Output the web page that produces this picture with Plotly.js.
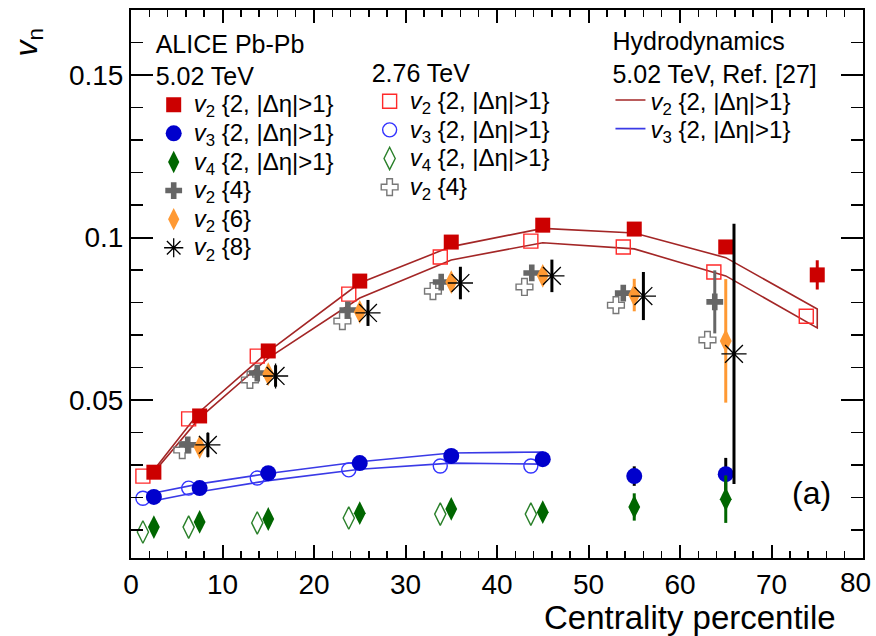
<!DOCTYPE html>
<html>
<head>
<meta charset="utf-8">
<script src="https://cdn.plot.ly/plotly-3.0.1.min.js"></script>
<style>html,body{margin:0;padding:0;background:#fff;}#chart{width:876px;height:636px;}</style>
</head>
<body>
<div id="chart"></div>
<script>
// ---------- data ----------
// ALICE 5.02 TeV
const x502 = [2.5, 7.5, 15, 25, 35, 45, 55, 65, 75];
const v22_502 = [0.0278, 0.0451, 0.0651, 0.0866, 0.0986, 0.1038, 0.1026, 0.0971, 0.0885];
const v22_502_err = [0, 0, 0, 0, 0, 0, 0.001, 0.002, 0.0045];
const x502_v3 = [2.5, 7.5, 15, 25, 35, 45, 55, 65];
const v32_502 = [0.0202, 0.0229, 0.0275, 0.0306, 0.0328, 0.0318, 0.0266, 0.0272];
const v32_502_err = [0, 0, 0, 0, 0, 0, 0.003, 0.005];
const v42_502 = [0.0109, 0.0125, 0.0134, 0.0152, 0.0165, 0.0155, 0.0171, 0.0195];
const v42_502_err = [0, 0, 0, 0, 0, 0, 0.0042, 0.0073];
const x502_v24 = [6.2, 13.8, 23.7, 33.9, 43.8, 53.8, 63.8];
const v24_502 = [0.0362, 0.0583, 0.0777, 0.0863, 0.0891, 0.0829, 0.0802];
const v24_502_err = [0, 0, 0, 0.001, 0.001, 0.0015, 0.0097];
const x502_v26 = [7.5, 15, 25, 35, 45, 55, 65];
const v26_502 = [0.0355, 0.058, 0.0771, 0.0863, 0.0882, 0.0823, 0.0682];
const v26_502_err = [0, 0, 0, 0, 0.001, 0.005, 0.019];
const x502_v28 = [8.4, 15.8, 25.9, 36, 46, 56, 65.9];
const v28_502 = [0.0362, 0.0574, 0.0768, 0.086, 0.0882, 0.082, 0.0642];
const v28_502_err = [0.0037, 0.0033, 0.004, 0.005, 0.005, 0.0074, 0.040];

// ALICE 2.76 TeV
const x276 = [1.3, 6.3, 13.8, 23.8, 33.8, 43.7, 53.8, 63.7, 73.8];
const v22_276 = [0.0266, 0.0442, 0.0635, 0.0826, 0.094, 0.0989, 0.0971, 0.0894, 0.0758];
const x276_v3 = [1.3, 6.3, 13.8, 23.8, 33.8, 43.7];
const v32_276 = [0.0198, 0.0229, 0.026, 0.0285, 0.0297, 0.0297];
const v42_276 = [0.0094, 0.0109, 0.0122, 0.0137, 0.0149, 0.0149];
const x276_v24 = [5.6, 13.0, 23.1, 33.0, 43.0, 53.0, 63.0];
const v24_276 = [0.0346, 0.0562, 0.0743, 0.0835, 0.0848, 0.0792, 0.0685];

// Hydrodynamics 5.02 TeV (band edges)
const hydroX_v2 = [2.5, 7.5, 15, 25, 35, 45, 55, 65, 75];
const hydroV2_up = [0.0285, 0.0464, 0.0649, 0.086, 0.0972, 0.1028, 0.1014, 0.0938, 0.078];
const hydroV2_lo = [0.0278, 0.0445, 0.0629, 0.0814, 0.0931, 0.0984, 0.0965, 0.0882, 0.0722];
const hydroX_v3 = [2.5, 7.5, 15, 25, 35, 45];
const hydroV3_up = [0.0214, 0.0242, 0.0274, 0.031, 0.0337, 0.034];
const hydroV3_lo = [0.019, 0.0218, 0.0252, 0.0287, 0.0306, 0.0303];

// axis ticks
const xTickVals = [0, 10, 20, 30, 40, 50, 60, 70, 80];
const xTickText = ['0', '10', '20', '30', '40', '50', '60', '70', ''];
const xLastTickLabel = '80';

// ---------- helpers ----------
function band(xs, up, lo) {
  const x = xs.concat(xs.slice().reverse(), [xs[0]]);
  const y = up.concat(lo.slice().reverse(), [up[0]]);
  return {x, y};
}
const FONT = 'Liberation Sans, Arial, Helvetica, sans-serif';
const lbl = (n, s) => '<span style="font-size:24px"><i>v</i><sub>' + n + '</sub> ' + s + '</span>';
const ETA = '{2, |Δη|>1}';
function errs(arr, color) {
  return {type: 'data', array: arr, visible: true, width: 0, thickness: 3, color: color};
}

const b2 = band(hydroX_v2, hydroV2_up, hydroV2_lo);
const b3 = band(hydroX_v3, hydroV3_up, hydroV3_lo);

const traces = [
  // hydro
  {x: b2.x, y: b2.y, type: 'scatter', mode: 'lines', fill: 'toself', fillcolor: 'rgba(0,0,0,0)',
   line: {color: '#a32626', width: 1.6}, name: lbl(2, ETA), legend: 'legend3', hoverinfo: 'skip'},
  {x: b3.x, y: b3.y, type: 'scatter', mode: 'lines', fill: 'toself', fillcolor: 'rgba(0,0,0,0)',
   line: {color: '#3a3ae6', width: 1.6}, name: lbl(3, ETA), legend: 'legend3', hoverinfo: 'skip'},
  // 2.76 TeV open
  {x: x276, y: v22_276, type: 'scatter', mode: 'markers', name: lbl(2, ETA), legend: 'legend2',
   marker: {symbol: 'square-open', size: 14, color: '#ff2a2a', line: {width: 1.4}}},
  {x: x276_v3, y: v32_276, type: 'scatter', mode: 'markers', name: lbl(3, ETA), legend: 'legend2',
   marker: {symbol: 'circle-open', size: 14, color: '#3333ff', line: {width: 1.4}}},
  {x: x276_v3, y: v42_276, type: 'scatter', mode: 'markers', name: lbl(4, ETA), legend: 'legend2',
   marker: {symbol: 'diamond-tall-open', size: 16, color: '#2a802a', line: {width: 1.4}}},
  {x: x276_v24, y: v24_276, type: 'scatter', mode: 'markers', name: lbl(2, '{4}'), legend: 'legend2',
   marker: {symbol: 'cross-open', size: 14, color: '#777777', line: {width: 1.4}}},
  // 5.02 TeV filled
  {x: x502, y: v22_502, type: 'scatter', mode: 'markers', name: lbl(2, ETA), legend: 'legend',
   error_y: errs(v22_502_err, '#cc0000'),
   marker: {symbol: 'square', size: 15, color: '#cc0000'}},
  {x: x502_v3, y: v32_502, type: 'scatter', mode: 'markers', name: lbl(3, ETA), legend: 'legend',
   error_y: errs(v32_502_err, '#000000'),
   marker: {symbol: 'circle', size: 16, color: '#0000cc'}},
  {x: x502_v3, y: v42_502, type: 'scatter', mode: 'markers', name: lbl(4, ETA), legend: 'legend',
   error_y: errs(v42_502_err, '#006600'),
   marker: {symbol: 'diamond-tall', size: 17, color: '#006600'}},
  {x: x502_v24, y: v24_502, type: 'scatter', mode: 'markers', name: lbl(2, '{4}'), legend: 'legend',
   error_y: errs(v24_502_err, '#666666'),
   marker: {symbol: 'cross', size: 14, color: '#666666'}},
  {x: x502_v26, y: v26_502, type: 'scatter', mode: 'markers', name: lbl(2, '{6}'), legend: 'legend',
   error_y: errs(v26_502_err, '#ff9933'),
   marker: {symbol: 'diamond-tall', size: 17, color: '#ff9933'}},
  {x: x502_v28, y: v28_502, type: 'scatter', mode: 'markers', name: lbl(2, '{8}'), legend: 'legend',
   error_y: errs(v28_502_err, '#000000'),
   marker: {symbol: 'asterisk-open', size: 21, color: '#000000', line: {width: 1.3, color: '#000000'}}}
];

const legFont = {family: FONT, size: 19.7, color: '#000'};
const titleFont = {family: FONT, size: 25, color: '#000'};
const legBase = {bgcolor: 'rgba(0,0,0,0)', borderwidth: 0, font: legFont, xanchor: 'left', yanchor: 'top',
                 traceorder: 'normal', tracegroupgap: 0, itemclick: false};
const tickFont = {family: FONT, size: 28, color: '#000'};

const layout = {
  width: 876, height: 636,
  margin: {l: 131, r: 13, t: 10, b: 78},
  paper_bgcolor: '#fff', plot_bgcolor: '#fff',
  font: {family: FONT, color: '#000'},
  showlegend: true,
  xaxis: {
    range: [0, 80], tickmode: 'array', tickvals: xTickVals, ticktext: xTickText,
    ticks: 'inside', ticklen: 13, tickwidth: 2, tickcolor: '#000',
    showline: true, linewidth: 2, linecolor: '#000', mirror: 'ticks', showgrid: false, zeroline: false,
    tickfont: tickFont,
    minor: {dtick: 2, tick0: 0, ticks: 'inside', ticklen: 7, tickwidth: 1.5, tickcolor: '#000', showgrid: false}
  },
  yaxis: {
    range: [0.0014, 0.17], tick0: 0, dtick: 0.05, ticks: 'inside', ticklen: 22, tickwidth: 2, tickcolor: '#000',
    showline: true, linewidth: 2, linecolor: '#000', mirror: 'ticks', showgrid: false, zeroline: false,
    tickfont: tickFont,
    minor: {dtick: 0.01, ticks: 'inside', ticklen: 12, tickwidth: 1.5, tickcolor: '#000', showgrid: false}
  },
  legend: Object.assign({}, legBase, {x: 0.031, y: 0.981, title: {text: 'ALICE Pb-Pb<br>5.02 TeV', font: titleFont}}),
  legend2: Object.assign({}, legBase, {x: 0.326, y: 0.928, title: {text: '2.76 TeV', font: titleFont}}),
  legend3: Object.assign({}, legBase, {x: 0.655, y: 0.986, title: {text: 'Hydrodynamics<br>5.02 TeV, Ref. [27]', font: titleFont}}),
  annotations: [
    {text: xLastTickLabel, xref: 'x', yref: 'paper', x: xTickVals[xTickVals.length - 1], y: -0.0438,
     xanchor: 'right', yanchor: 'middle', xshift: 10, showarrow: false, font: tickFont},
    {text: 'Centrality percentile', xref: 'paper', yref: 'paper', x: 0.966, y: -0.108, xanchor: 'right', yanchor: 'middle',
     showarrow: false, font: {family: FONT, size: 33, color: '#000'}},
    {text: '<i>v</i><sub>n</sub>', xref: 'paper', yref: 'paper', x: -0.14, y: 0.94, xanchor: 'center', yanchor: 'middle',
     textangle: -90, showarrow: false, font: {family: FONT, size: 32, color: '#000'}},
    {text: '(a)', xref: 'paper', yref: 'paper', x: 0.929, y: 0.118, xanchor: 'center', yanchor: 'middle',
     showarrow: false, font: {family: FONT, size: 32, color: '#000'}}
  ]
};

Plotly.newPlot('chart', traces, layout, {displayModeBar: false, staticPlot: true});
</script>
</body>
</html>
